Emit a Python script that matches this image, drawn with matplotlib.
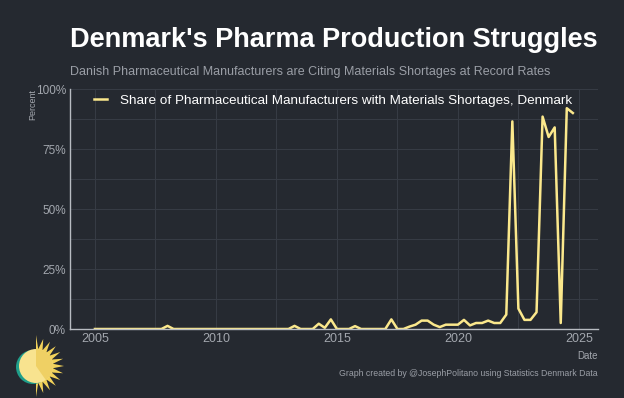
import numpy as np
import matplotlib.pyplot as plt
from matplotlib.patches import Circle, Polygon, Wedge
from matplotlib.ticker import MultipleLocator, FuncFormatter

plt.rcParams['font.family'] = ['Liberation Sans', 'DejaVu Sans']

# quarterly share of manufacturers citing materials shortages (%), 2005Q1 - 2024Q4
start_year = 2005
shortage_pct = [
    0, 0, 0, 0,          # 2005
    0, 0, 0, 0,          # 2006
    0, 0, 0, 0,          # 2007
    1.3, 0, 0, 0,        # 2008
    0, 0, 0, 0,          # 2009
    0, 0, 0, 0,          # 2010
    0, 0, 0, 0,          # 2011
    0, 0, 0, 0,          # 2012
    0, 1.3, 0, 0,        # 2013
    0, 2.2, 0.5, 4.0,    # 2014
    0, 0, 0, 1.2,        # 2015
    0, 0, 0, 0,          # 2016
    0, 4.0, 0, 0,        # 2017
    1.0, 1.8, 3.5, 3.5,  # 2018
    1.8, 0.8, 1.8, 1.8,  # 2019
    1.8, 3.8, 1.5, 2.5,  # 2020
    2.5, 3.5, 2.5, 2.5,  # 2021
    6.0, 86.5, 8.5, 3.8, # 2022
    3.8, 7.0, 88.5, 80,  # 2023
    84, 2.5, 92, 90,     # 2024
]
dates = start_year + np.arange(len(shortage_pct)) / 4
series_label = "Share of Pharmaceutical Manufacturers with Materials Shortages, Denmark"

bg = '#252930'
grid_c = '#373c45'
tick_c = '#a3a7ae'
line_c = '#fbe88c'

fig = plt.figure(figsize=(6.24, 3.98), dpi=100, facecolor=bg)
ax = fig.add_axes([70/624, 1-329/398, 528/624, 240/398], facecolor=bg)

ax.plot(dates, shortage_pct, color=line_c, lw=1.8, label=series_label)

ax.set_xlim(2003.97, 2025.79)
ax.set_ylim(0, 100)
ax.xaxis.set_major_locator(MultipleLocator(5))
ax.xaxis.set_minor_locator(MultipleLocator(2.5))
ax.yaxis.set_major_locator(MultipleLocator(25))
ax.yaxis.set_minor_locator(MultipleLocator(12.5))
ax.yaxis.set_major_formatter(FuncFormatter(lambda v, p: f'{v:.0f}%'))
ax.grid(True, which='both', color=grid_c, lw=0.7)
ax.set_axisbelow(True)
ax.tick_params(which='both', length=0, colors=tick_c, labelsize=8.5, pad=3)
ax.tick_params(axis='x', labelsize=9, pad=3)
for s in ['top', 'right']:
    ax.spines[s].set_visible(False)
for s in ['left', 'bottom']:
    ax.spines[s].set_color('#b8bcc2')
    ax.spines[s].set_linewidth(1.0)

ax.set_ylabel('Percent', color=tick_c, fontsize=6.5, loc='top', labelpad=-1)
ax.set_xlabel('Date', color=tick_c, fontsize=7, loc='right', labelpad=4)

leg = ax.legend(loc='upper left', frameon=False, fontsize=9.7, labelcolor='white',
                handlelength=1.0, handletextpad=0.9, borderaxespad=0.2,
                bbox_to_anchor=(0.03, 1.012))

fig.text(70/624, 1-40/398, "Denmark's Pharma Production Struggles", color='white',
         fontsize=19.5, fontweight='bold', va='center', ha='left')
fig.text(70/624, 1-72/398, "Danish Pharmaceutical Manufacturers are Citing Materials Shortages at Record Rates",
         color='#9a9ea6', fontsize=9.0, va='center', ha='left')
fig.text(598/624, 1-373/398, "Graph created by @JosephPolitano using Statistics Denmark Data",
         color='#9a9ea6', fontsize=6.3, va='center', ha='right')

# sun logo
lx = fig.add_axes([0, 0, 80/624, 68/398])
lx.set_xlim(0, 80)
lx.set_ylim(0, 68)
lx.axis('off')
cx, cy, r = 36, 32, 17
spikes = []
n = 12
for k in range(n * 2 + 1):
    a = np.pi / 2 - np.pi * k / (n * 2)
    rr = r + (11 if k % 2 == 0 else 0) if k not in (0, n * 2) else r + 14
    spikes.append((cx + rr * np.cos(a), cy + rr * np.sin(a)))
spikes.append((cx, cy))
lx.add_patch(Polygon(spikes, closed=True, color='#f2d25a', lw=0))
lx.add_patch(Circle((cx - 3, cy - 1), r, color='#1f9e8a', lw=0))
lx.add_patch(Circle((cx, cy), r, color='#f8e38f', lw=0))
lx.add_patch(Wedge((cx, cy), r, -55, 90, color='#efd064', lw=0))

fig.savefig('out.png', dpi=100, facecolor=bg)
